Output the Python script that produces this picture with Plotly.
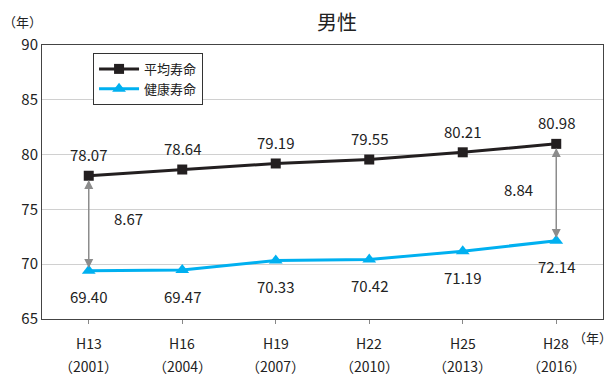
import plotly.graph_objects as go

categories = ["H13", "H16", "H19", "H22", "H25", "H28"]
years = ["2001", "2004", "2007", "2010", "2013", "2016"]
avg_life = [78.07, 78.64, 79.19, 79.55, 80.21, 80.98]
healthy_life = [69.40, 69.47, 70.33, 70.42, 71.19, 72.14]
gap_labels = ["8.67", "8.84"]
gap_idx = [0, 5]

x = list(range(len(categories)))
font = "Noto Sans CJK JP"
txt = "#222222"

fig = go.Figure()
fig.add_trace(go.Scatter(
    x=x, y=avg_life, name="平均寿命", mode="lines+markers",
    line=dict(color="#231f20", width=3),
    marker=dict(symbol="square", size=10, color="#231f20"),
))
fig.add_trace(go.Scatter(
    x=x, y=healthy_life, name="健康寿命", mode="lines+markers",
    line=dict(color="#00b0f0", width=3),
    marker=dict(symbol="triangle-up", size=12, color="#00b0f0"),
))

def note(xv, yv, text, size=15, xref="x", yref="y", yshift=0, xanchor="center"):
    fig.add_annotation(x=xv, y=yv, xref=xref, yref=yref, yshift=yshift,
                       xanchor=xanchor, yanchor="middle",
                       text=text, showarrow=False,
                       font=dict(size=size, color=txt, family=font))

for i in x:
    note(i, avg_life[i], f"{avg_life[i]:.2f}", yshift=21)
    note(i, healthy_life[i], f"{healthy_life[i]:.2f}", yshift=-26)
    note(i, -0.087, categories[i], size=14, yref="paper")
    note(i, -0.17, f"（{years[i]}）", size=14, yref="paper")

for i, lbl, dx, dy in zip(gap_idx, gap_labels, [0.42, -0.4], [0.4, 0.3]):
    fig.add_annotation(
        x=i, y=healthy_life[i] + 0.25, ax=i, ay=avg_life[i] - 0.25,
        xref="x", yref="y", axref="x", ayref="y",
        showarrow=True, arrowhead=2, arrowside="end+start",
        arrowsize=1.2, arrowwidth=1.5, arrowcolor="#8c8c8c", text="",
    )
    note(i + dx, (avg_life[i] + healthy_life[i]) / 2 + dy, lbl)

note(0.526, 1.084, "男性", size=20, xref="paper", yref="paper")
note(-0.034, 1.084, "（年）", size=13, xref="paper", yref="paper")
note(1.0196, -0.066, "（年）", size=13, xref="paper", yref="paper", xanchor="right")

fig.update_layout(
    width=614, height=376,
    margin=dict(l=42, r=11, t=45, b=57),
    paper_bgcolor="white", plot_bgcolor="white",
    font=dict(family=font, size=14, color=txt),
    showlegend=True,
    legend=dict(x=0.091, y=0.971, xanchor="left", yanchor="top",
                bordercolor="#333333", borderwidth=1, bgcolor="white",
                font=dict(size=13, family=font), tracegroupgap=2,
                itemwidth=40),
    xaxis=dict(range=[-0.5, 5.5], tickvals=x, ticktext=[""] * len(x),
               showgrid=False, zeroline=False, showline=True, mirror=True,
               linecolor="#444444", linewidth=1, ticks="outside",
               ticklen=4, tickcolor="#888888"),
    yaxis=dict(range=[65, 90], dtick=5, showgrid=True, gridcolor="#d0d0d0",
               zeroline=False, showline=True, mirror=True,
               linecolor="#444444", linewidth=1, ticks="",
               tickfont=dict(size=15)),
)

fig.write_html("out.html")
